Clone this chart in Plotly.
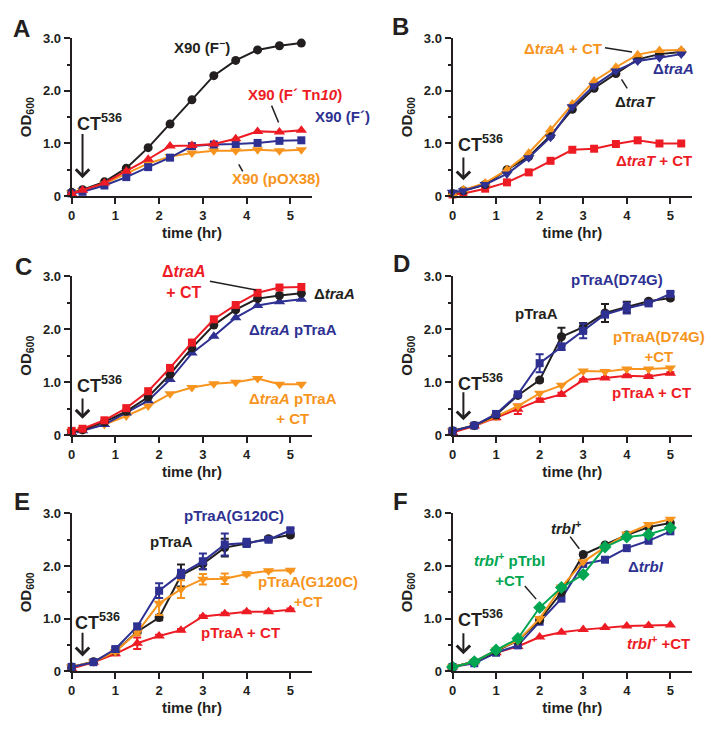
import plotly.graph_objects as go

BLACK = '#231f20'; RED = '#ed1c24'; BLUE = '#2e3192'; ORANGE = '#f7941d'; GREEN = '#00a651'
FONT = 'Liberation Sans, Arial, sans-serif'

# ---------------- data ----------------
t_AC = [0, 0.25, 0.75, 1.25, 1.75, 2.25, 2.75, 3.25, 3.75, 4.25, 4.75, 5.25]
t_DF = [0, 0.5, 1, 1.5, 2, 2.5, 3, 3.5, 4, 4.5, 5]

A_F_minus = [0.07, 0.12, 0.27, 0.53, 0.92, 1.37, 1.83, 2.29, 2.58, 2.78, 2.86, 2.91]
A_F_Tn10 = [0.05, 0.11, 0.25, 0.47, 0.70, 0.95, 0.96, 0.99, 1.09, 1.23, 1.22, 1.25]
A_F_prime = [0.05, 0.08, 0.20, 0.36, 0.55, 0.73, 0.95, 0.98, 0.99, 1.01, 1.05, 1.06]
A_pOX38 = [0.06, 0.10, 0.23, 0.42, 0.62, 0.75, 0.82, 0.86, 0.86, 0.88, 0.86, 0.88]

B_traA_CT = [0.05, 0.12, 0.25, 0.50, 0.82, 1.26, 1.75, 2.19, 2.45, 2.69, 2.77, 2.78]
B_traT = [0.05, 0.10, 0.22, 0.50, 0.75, 1.15, 1.65, 2.05, 2.33, 2.60, 2.70, 2.74]
B_traA = [0.07, 0.10, 0.22, 0.42, 0.73, 1.12, 1.70, 2.10, 2.38, 2.57, 2.63, 2.70]
B_traT_CT = [0.03, 0.05, 0.14, 0.26, 0.45, 0.67, 0.88, 0.90, 0.99, 1.06, 1.00, 1.00]

C_traA_CT = [0.08, 0.12, 0.28, 0.51, 0.83, 1.27, 1.75, 2.19, 2.46, 2.69, 2.79, 2.80]
C_traA = [0.07, 0.10, 0.25, 0.45, 0.72, 1.15, 1.65, 2.08, 2.37, 2.58, 2.64, 2.68]
C_traA_pTraA = [0.05, 0.08, 0.20, 0.42, 0.65, 1.05, 1.55, 1.87, 2.22, 2.45, 2.52, 2.57]
C_traA_pTraA_CT = [0.07, 0.10, 0.20, 0.36, 0.55, 0.78, 0.90, 0.97, 1.00, 1.07, 0.96, 0.96]

D_pTraA = [0.08, 0.18, 0.38, 0.75, 1.04, 1.86, 2.04, 2.31, 2.42, 2.53, 2.59]
D_pTraA_err = [0, 0, 0, 0, 0.03, 0.17, 0.08, 0.17, 0.10, 0.03, 0.03]
D_D74G = [0.08, 0.18, 0.40, 0.77, 1.36, 1.67, 1.97, 2.28, 2.40, 2.49, 2.67]
D_D74G_err = [0, 0, 0.03, 0.05, 0.17, 0.06, 0.14, 0.05, 0.10, 0.04, 0.04]
D_D74G_CT = [0.08, 0.18, 0.35, 0.55, 0.79, 0.94, 1.21, 1.20, 1.25, 1.25, 1.27]
D_pTraA_CT = [0.05, 0.17, 0.33, 0.49, 0.66, 0.77, 1.04, 1.08, 1.12, 1.11, 1.17]
D_pTraA_CT_err = [0, 0, 0.03, 0.09, 0.03, 0.03, 0.02, 0.02, 0.02, 0.02, 0.02]

E_pTraA = [0.08, 0.18, 0.38, 0.75, 1.02, 1.82, 2.04, 2.35, 2.43, 2.52, 2.59]
E_pTraA_err = [0, 0, 0, 0.03, 0.05, 0.21, 0.10, 0.17, 0.05, 0.03, 0.03]
E_G120C = [0.08, 0.17, 0.42, 0.85, 1.53, 1.85, 2.09, 2.41, 2.44, 2.50, 2.68]
E_G120C_err = [0, 0, 0.03, 0.05, 0.14, 0.08, 0.15, 0.21, 0.08, 0.04, 0.04]
E_G120C_CT = [0.08, 0.18, 0.37, 0.74, 1.29, 1.56, 1.75, 1.76, 1.85, 1.91, 1.92]
E_G120C_CT_err = [0, 0, 0.03, 0.05, 0.22, 0.17, 0.10, 0.10, 0.03, 0.02, 0.02]
E_pTraA_CT = [0.05, 0.17, 0.33, 0.53, 0.67, 0.78, 1.04, 1.09, 1.13, 1.13, 1.17]
E_pTraA_CT_err = [0, 0, 0.03, 0.11, 0.02, 0.02, 0.02, 0.02, 0.02, 0.02, 0.02]

F_trbI = [0.08, 0.18, 0.38, 0.58, 0.97, 1.50, 2.22, 2.40, 2.59, 2.74, 2.82]
F_dtrbI_CT = [0.08, 0.18, 0.40, 0.58, 1.00, 1.60, 2.08, 2.36, 2.61, 2.79, 2.89]
F_trbI_pTrbI_CT = [0.08, 0.18, 0.40, 0.62, 1.21, 1.59, 1.84, 2.36, 2.55, 2.60, 2.73]
F_dtrbI = [0.08, 0.15, 0.35, 0.49, 0.94, 1.38, 2.04, 2.12, 2.34, 2.48, 2.66]
F_trbI_CT = [0.08, 0.18, 0.35, 0.47, 0.65, 0.74, 0.79, 0.83, 0.86, 0.87, 0.88]

y_tickvals = [0, 1, 2, 3]
y_ticktext = ['0', '1.0', '2.0', '3.0']
x_tickvals = [0, 1, 2, 3, 4, 5]

# ---------------- figure ----------------
fig = go.Figure()


def suffix(p):
    return '' if p == 1 else str(p)


def add(p, x, y, color, symbol, name, err=None, size=9):
    tr = go.Scatter(x=x, y=y, mode='lines+markers', name=name,
                    xaxis='x' + suffix(p), yaxis='y' + suffix(p),
                    line=dict(color=color, width=2),
                    marker=dict(color=color, symbol=symbol, size=size),
                    cliponaxis=False, showlegend=False)
    if err is not None:
        tr.error_y = dict(type='data', array=err, color=color, thickness=2, width=4, visible=True)
    fig.add_trace(tr)


# A
add(1, t_AC, A_F_minus, BLACK, 'circle', 'X90 (F-)')
add(1, t_AC, A_pOX38, ORANGE, 'triangle-down', 'X90 (pOX38)', size=10)
add(1, t_AC, A_F_prime, BLUE, 'square', "X90 (F')", size=8)
add(1, t_AC, A_F_Tn10, RED, 'triangle-up', "X90 (F' Tn10)", size=10)
# B
add(2, t_AC, B_traT_CT, RED, 'square', 'dtraT + CT', size=8)
add(2, t_AC, B_traT, BLACK, 'circle', 'dtraT')
add(2, t_AC, B_traA_CT, ORANGE, 'triangle-up', 'dtraA + CT', size=10)
add(2, t_AC, B_traA, BLUE, 'triangle-down', 'dtraA', size=10)
# C
add(3, t_AC, C_traA_pTraA_CT, ORANGE, 'triangle-down', 'dtraA pTraA + CT', size=10)
add(3, t_AC, C_traA_pTraA, BLUE, 'triangle-up', 'dtraA pTraA', size=10)
add(3, t_AC, C_traA, BLACK, 'circle', 'dtraA')
add(3, t_AC, C_traA_CT, RED, 'square', 'dtraA + CT', size=8)
# D
add(4, t_DF, D_pTraA_CT, RED, 'triangle-up', 'pTraA + CT', D_pTraA_CT_err, size=10)
add(4, t_DF, D_D74G_CT, ORANGE, 'triangle-down', 'pTraA(D74G) + CT', size=10)
add(4, t_DF, D_pTraA, BLACK, 'circle', 'pTraA', D_pTraA_err)
add(4, t_DF, D_D74G, BLUE, 'square', 'pTraA(D74G)', D_D74G_err, size=8)
# E
add(5, t_DF, E_pTraA_CT, RED, 'triangle-up', 'pTraA + CT', E_pTraA_CT_err, size=10)
add(5, t_DF, E_pTraA, BLACK, 'circle', 'pTraA', E_pTraA_err)
add(5, t_DF, E_G120C_CT, ORANGE, 'triangle-down', 'pTraA(G120C) + CT', E_G120C_CT_err, size=10)
add(5, t_DF, E_G120C, BLUE, 'square', 'pTraA(G120C)', E_G120C_err, size=8)
# F
add(6, t_DF, F_trbI_CT, RED, 'triangle-up', 'trbI+ +CT', size=10)
add(6, t_DF, F_dtrbI, BLUE, 'square', 'dtrbI', size=8)
add(6, t_DF, F_trbI, BLACK, 'circle', 'trbI+')
add(6, t_DF, F_dtrbI_CT, ORANGE, 'triangle-down', 'dtrbI +CT', size=10)
add(6, t_DF, F_trbI_pTrbI_CT, GREEN, 'diamond', 'trbI+ pTrbI +CT', size=10)

# ---------------- axes ----------------
col_x = [[0.0952, 0.4342], [0.6317, 0.9692]]
row_y = [[0.7371, 0.9564], [0.4046, 0.6253], [0.0763, 0.2956]]

layout = dict(width=714, height=734, margin=dict(l=0, r=0, t=0, b=0),
              paper_bgcolor='white', plot_bgcolor='white',
              font=dict(family=FONT, color=BLACK))

for p in range(1, 7):
    r = (p - 1) // 2
    c = (p - 1) % 2
    s = suffix(p)
    layout['xaxis' + s] = dict(
        domain=col_x[c], anchor='y' + s, range=[0, 5.5],
        tickvals=x_tickvals, ticks='outside', ticklen=6, tickwidth=2, tickcolor=BLACK,
        showline=True, linewidth=2, linecolor=BLACK, showgrid=False, zeroline=False,
        tickfont=dict(size=13, family=FONT, color=BLACK, weight='bold'),
        title=dict(text='time (hr)', standoff=6,
                   font=dict(size=15, family=FONT, color=BLACK, weight='bold')))
    layout['yaxis' + s] = dict(
        domain=row_y[r], anchor='x' + s, range=[0, 3.0],
        tickvals=y_tickvals, ticktext=y_ticktext, ticks='outside', ticklen=6, tickwidth=2,
        tickcolor=BLACK,
        minor=dict(dtick=0.5, ticks='outside', ticklen=3, tickwidth=2, tickcolor=BLACK),
        showline=True, linewidth=2, linecolor=BLACK, showgrid=False, zeroline=False,
        tickfont=dict(size=13, family=FONT, color=BLACK, weight='bold'),
        title=dict(text='OD<sub>600</sub>', standoff=8,
                   font=dict(size=15, family=FONT, color=BLACK, weight='bold')))

fig.update_layout(**layout)

annotations = []
shapes = []


def label(p, x, y, text, color, size=15, xanchor='center', xshift=0):
    s = suffix(p)
    annotations.append(dict(x=x, y=y, xref='x' + s, yref='y' + s, text=text, showarrow=False,
                            xanchor=xanchor, yanchor='middle', xshift=xshift,
                            font=dict(size=size, family=FONT, color=color, weight='bold')))


def leader(p, x0, y0, x1, y1):
    s = suffix(p)
    shapes.append(dict(type='line', xref='x' + s, yref='y' + s, x0=x0, y0=y0, x1=x1, y1=y1,
                       line=dict(color=BLACK, width=1.5)))


def ct_arrow(p, tx, ty, tail, tip=0.3):
    s = suffix(p)
    label(p, tx, ty, 'CT<sup>536</sup>', BLACK, size=18)
    annotations.append(dict(x=0.25, y=tip, ax=0.25, ay=tail, xref='x' + s, yref='y' + s,
                            axref='x' + s, ayref='y' + s, text='', showarrow=True,
                            arrowhead=4, arrowsize=1.3, arrowwidth=2, arrowcolor=BLACK))


# A
label(1, 2.98, 2.85, 'X90 (F<sup>−</sup>)', BLACK)
label(1, 5.11, 1.93, 'X90 (F´ Tn<i>10</i>)', RED)
label(1, 5.5, 1.52, 'X90 (F´)', BLUE, xanchor='left', xshift=1)
label(1, 4.68, 0.34, 'X90 (pOX38)', ORANGE)
leader(1, 4.57, 1.72, 4.73, 1.40)
leader(1, 3.82, 0.60, 3.91, 0.47)
ct_arrow(1, 0.64, 1.40, 1.21, 0.34)
# B
label(2, 2.54, 2.81, 'Δ<i>traA</i> + CT', ORANGE)
leader(2, 3.50, 2.82, 4.12, 2.74)
label(2, 5.08, 2.42, 'Δ<i>traA</i>', BLUE)
label(2, 4.19, 1.79, 'Δ<i>traT</i>', BLACK)
leader(2, 3.88, 2.22, 4.01, 2.05)
label(2, 4.62, 0.67, 'Δ<i>traT</i> + CT', RED)
ct_arrow(2, 0.64, 0.99, 0.76, 0.30)
# C
label(3, 2.57, 2.89, 'Δ<i>traA</i><br>+ CT', RED, size=16)
leader(3, 3.16, 2.91, 4.22, 2.74)
label(3, 5.5, 2.68, 'Δ<i>traA</i>', BLACK, xanchor='left', xshift=0)
label(3, 5.07, 2.00, 'Δ<i>traA</i> pTraA', BLUE)
label(3, 5.07, 0.50, 'Δ<i>traA</i> pTraA<br>+ CT', ORANGE)
ct_arrow(3, 0.64, 0.96, 0.72, 0.31)
# D
label(4, 3.77, 2.94, 'pTraA(D74G)', BLUE)
label(4, 1.92, 2.29, 'pTraA', BLACK)
label(4, 4.73, 1.68, 'pTraA(D74G)<br>+CT', ORANGE)
label(4, 4.57, 0.80, 'pTraA + CT', RED)
ct_arrow(4, 0.64, 0.99, 0.84, 0.28)
# E
label(5, 3.72, 2.97, 'pTraA(G120C)', BLUE)
label(5, 2.29, 2.47, 'pTraA', BLACK)
label(5, 5.40, 1.51, 'pTraA(G120C)<br>+CT', ORANGE)
label(5, 3.86, 0.74, 'pTraA + CT', RED)
ct_arrow(5, 0.59, 0.95, 0.76, 0.28)
# F
label(6, 4.12, 3.06, 'Δ<i>trbI</i> +CT', ORANGE)
label(6, 2.60, 2.74, '<i>trbI</i><sup>+</sup>', BLACK)
leader(6, 2.70, 2.56, 2.91, 2.33)
label(6, 1.30, 1.93, '<i>trbI</i><sup>+</sup> pTrbI<br>+CT', GREEN)
leader(6, 1.66, 1.62, 1.92, 1.37)
label(6, 4.44, 2.00, 'Δ<i>trbI</i>', BLUE)
label(6, 4.72, 0.54, '<i>trbI</i><sup>+</sup> +CT', RED)
ct_arrow(6, 0.64, 1.00, 0.75, 0.32)

# panel letters
letters = [('A', 0.0252, 0.970), ('B', 0.559, 0.973), ('C', 0.028, 0.639),
           ('D', 0.560, 0.643), ('E', 0.025, 0.312), ('F', 0.559, 0.312)]
for txt, px, py in letters:
    annotations.append(dict(x=px, y=py, xref='paper', yref='paper', text=txt, showarrow=False,
                            xanchor='center', yanchor='middle',
                            font=dict(size=24, family=FONT, color=BLACK, weight='bold')))

fig.update_layout(annotations=annotations, shapes=shapes)

fig.write_html("out.html", config={'displayModeBar': False},
               post_script="document.body.style.margin='0';document.body.style.overflow='hidden';")
